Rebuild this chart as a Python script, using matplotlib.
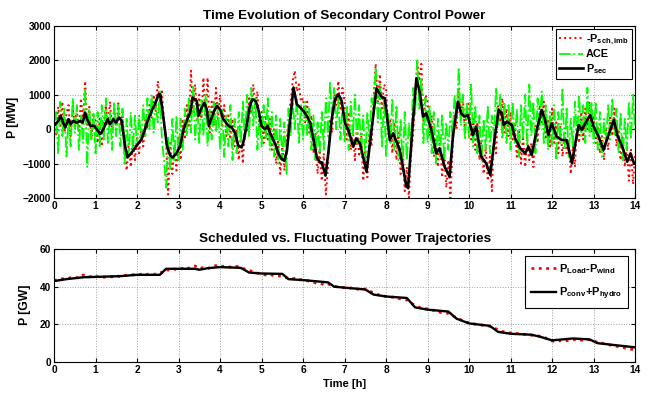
import numpy as np
import matplotlib
matplotlib.use('Agg')
import matplotlib.pyplot as plt

plt.rcParams['font.family'] = ['Liberation Sans', 'DejaVu Sans']
plt.rcParams['font.weight'] = 'bold'
plt.rcParams['mathtext.fontset'] = 'custom'
plt.rcParams['mathtext.rm'] = 'Liberation Sans:bold'
plt.rcParams['mathtext.bf'] = 'Liberation Sans:bold'
plt.rcParams['mathtext.default'] = 'bf'

#secondary control power P_sec [MW], read at irregular times [h]
t_sec = [0, 0.1, 0.16, 0.22, 0.27, 0.35, 0.4, 0.47, 0.55, 0.63, 0.69, 0.75, 0.8, 0.87, 0.96,
         1.03, 1.11, 1.19, 1.29, 1.35, 1.43, 1.49, 1.57, 1.63, 1.71, 1.77, 1.87, 1.99,
         2.11, 2.19, 2.27, 2.35, 2.43, 2.52, 2.56, 2.64, 2.72, 2.8, 2.86, 2.96,
         3.04, 3.12, 3.21, 3.28, 3.34, 3.44, 3.48, 3.54, 3.62, 3.68, 3.73, 3.84, 3.92,
         4.0, 4.08, 4.2, 4.28, 4.36, 4.44, 4.52, 4.56, 4.64, 4.72, 4.78, 4.86, 4.92,
         5.0, 5.08, 5.15, 5.2, 5.33, 5.41, 5.49, 5.55, 5.61, 5.69, 5.77, 5.85, 5.93,
         6.01, 6.09, 6.17, 6.25, 6.33, 6.41, 6.45, 6.54, 6.61, 6.69, 6.77, 6.85, 6.93,
         7.01, 7.09, 7.21, 7.28, 7.37, 7.53, 7.65, 7.77, 7.89, 7.97,
         8.09, 8.17, 8.33, 8.49, 8.53, 8.65, 8.73, 8.81, 8.89, 8.97,
         9.09, 9.21, 9.29, 9.41, 9.53, 9.61, 9.73, 9.81, 9.89, 9.97,
         10.09, 10.17, 10.29, 10.41, 10.51, 10.59, 10.71, 10.79, 10.83, 10.91,
         11.03, 11.11, 11.23, 11.35, 11.43, 11.51, 11.63, 11.75, 11.83, 11.91, 11.99,
         12.11, 12.23, 12.35, 12.48, 12.56, 12.64, 12.72, 12.8, 12.92,
         13.0, 13.12, 13.24, 13.37, 13.49, 13.57, 13.69, 13.81, 13.89, 13.97, 14.0]
p_sec = [100, 240, 390, 190, 50, 290, 145, 240, 190, 240, 190, 480, 290, 100, 100,
         0, -145, 0, 290, 145, 290, 190, 340, 240, -480, -820, -680, -480,
         -290, 0, 290, 530, 725, 1015, 1015, 290, -480, -770, -820, -680,
         -480, 0, 290, 480, 920, 820, 390, 580, 770, 580, 100, 480, 680,
         580, 290, 100, 50, -100, -480, -530, -390, 100, 680, 870, 820, 580,
         100, 0, 100, -100, -430, -725, -870, -920, -630, 290, 1210, 725, 630,
         530, 390, 190, -290, -820, -965, -965, -1350, -680, 290, 870, 1015, 820,
         170, -20, -510, -270, -410, -1235, -20, 1190, 945, 900,
         -315, -120, -600, -1670, -1700, 270, 1480, 1090, 365, 460,
         -20, -700, -555, -1090, -1380, -215, 800, 460, 365, 410,
         -170, 75, -795, -990, -1330, -510, 560, 460, 120, 220,
         120, -270, -555, -700, -510, -750, -20, 560, 270, -170, 170,
         -215, -315, -315, -990, -410, 120, -20, 170, 410,
         75, -215, -600, -120, 270, -170, -510, -945, -700, -990, -1000]

#-P_sch,imb [MW], estimated every 0.05 h (one row per hour)
p_imb = [300, -150, 650, 100, 800, -100, 450, 700, -200, 600, 150, 550, -50, 900, 250, 1400, 100, 650, -300, 400,
         250, -400, 300, -500, 200, 700, 100, 800, -100, 600, 0, 750, 100, 500, -700, -1200, -400, -1100, -300, -900,
         -200, -700, 0, -500, 300, 0, 700, 300, 1000, 500, 1400, 800, 1100, 200, -300, -1900, -400, -1300, -500, -1200,
         -200, -900, 300, -300, 700, 100, 1700, 500, 1300, 200, 1000, 300, 1500, 400, 1500, -100, 800, 100, 1200, 300,
         1000, 100, 700, -200, 400, -300, 300, -500, 0, -900, -200, -1000, 200, -100, 900, 500, 1300, 600, 1100, 0,
         500, -400, 400, -300, 300, -600, 0, -1000, -300, -1300, -500, -1200, -400, 300, 800, 1400, 1700, 1100, 1300, 800,
         900, 200, 800, -100, 400, -700, -100, -1300, -600, -1500, -700, -1900, -1100, 300, -100, 1100, 700, 1400, 600, 1200,
         800, -300, 500, -600, 0, -900, 100, -800, -100, -1500, -600, -1400, 0, -500, 900, 1900, 800, 1600, 600, 1300,
         1200, 0, 300, -700, 200, -900, -100, -1300, -500, -1800, -1100, -2000, -700, -200, 800, 2000, 1400, 1900, 200, 1000,
         800, -200, 400, -800, -300, -1100, -200, -1400, -600, -1700, -900, -2000, -600, 400, 0, 1200, 300, 900, -100, 800,
         700, -300, 300, -600, 200, -900, -300, -1300, -500, -1500, -800, -1800, -200, -700, 700, 200, 900, -100, 600, -200,
         500, -300, 200, -800, 0, -1000, -200, -1100, -300, -900, -400, -1100, 100, -400, 700, 200, 800, -300, 300, -500,
         600, -400, 200, -700, 100, -800, -100, -700, -300, -1300, -500, -1100, 200, -400, 500, -300, 600, 0, 800, -100,
         400, -400, 100, -700, -200, -900, 0, -600, 400, -200, 600, -500, 0, -900, -200, -1100, -500, -1500, -600, -1600, -700]

#ACE [MW], estimated every 0.05 h
ace = [-300, 500, -700, 800, -200, 600, -800, 300, -500, 900, -100, 700, -600, 400, -400, 1200, -1100, 600, -300, 500,
       -700, 500, -500, 700, -300, 900, -400, 500, -600, 800, -200, 700, -500, 600, -1000, 300, -800, 500, -600, 400,
       -500, 400, -300, 700, -200, 900, 0, 1000, -100, 800, 200, 1100, -300, -900, -1700, -200, -1200, 300, -900, 400,
       -900, 300, -600, 600, -200, 900, -100, 1300, -300, 700, -400, 900, -200, 1000, -500, 600, -300, 800, -100, 700,
       -600, 600, -800, 400, -500, 700, -900, 300, -700, 500, -400, 800, -300, 1000, -200, 1200, 100, 900, -600, 500,
       -500, 700, -300, 900, -600, 500, -800, 400, -1000, 300, -900, 200, -1300, 600, -200, 800, 0, 900, -400, 700,
       -300, 800, -200, 600, -600, 400, -900, 200, -700, 500, -600, 900, -200, 1400, 300, 1200, 0, 900, -300, 700,
       -400, 700, -600, 800, -200, 1000, -400, 700, -700, 400, -900, 500, -300, 900, 600, 1800, 200, 1300, -500, 900,
       -800, 500, -400, 900, -600, 700, -900, 300, -1100, 500, -900, 200, -500, 1200, 400, 2000, 600, 1500, -400, 900,
       -400, 700, -700, 500, -1000, 300, -800, 400, -900, 200, -600, 500, -200, 1000, 300, 1800, 100, 1000, -300, 800,
       -300, 1300, -500, 700, -700, 400, -900, 300, -600, 700, -700, 400, -200, 1200, 100, 1000, -300, 800, -400, 700,
       -600, 800, -400, 600, -800, 700, -300, 1000, -500, 1300, -200, 800, -700, 900, 0, 1100, -400, 700, -600, 500,
       -500, 700, -900, 500, -400, 1200, -600, 600, -800, 300, -500, 800, -300, 1000, -200, 700, -400, 1200, -200, 800,
       -400, 800, -600, 500, -800, 300, -400, 700, -300, 900, -200, 600, -700, 500, -900, 300, -600, 800, -300, 1000, 0]

#scheduled conventional + hydro power [GW]
t_sched = [0, 0.3, 0.7, 1.0, 1.6, 2.0, 2.55, 2.7, 3.0, 3.4, 3.5, 3.7, 4.0, 4.5, 4.7, 5.0, 5.5, 5.65,
           6.0, 6.6, 6.75, 7.0, 7.5, 7.7, 8.0, 8.5, 8.7, 9.0, 9.5, 9.7, 10.0, 10.5, 10.7,
           11.0, 11.5, 11.7, 12.0, 12.5, 12.9, 13.1, 13.5, 14.0]
p_sched = [43, 44, 45, 45.2, 45.6, 46.3, 46.3, 49.5, 49.5, 49.5, 49, 49.8, 50.4, 50, 47.5, 47, 46.8, 44,
           43.5, 42.3, 40, 39.5, 38.5, 35.8, 34.8, 34, 29, 27.8, 26.8, 23, 20.5, 19.2, 16,
           15, 14.5, 13.5, 11.5, 12.5, 12, 10, 9, 7.8]

#P_load - P_wind [GW], estimated every 0.1 h
p_resid = [43.2, 43.8, 44.2, 44.0, 44.8, 45.0, 44.6, 46.2, 45.0, 45.4,
           45.1, 45.6, 45.0, 45.4, 45.2, 45.9, 45.3, 46.0, 45.8, 46.4,
           46.0, 46.6, 46.2, 46.8, 46.4, 47.3, 47.6, 49.2, 48.6, 49.4,
           48.8, 49.8, 49.2, 50.6, 51.0, 49.6, 50.2, 49.5, 50.8, 51.2,
           50.4, 51.0, 50.6, 50.2, 50.8, 49.8, 49.4, 48.8, 47.6, 47.2,
           46.8, 46.2, 46.6, 45.8, 45.9, 45.2, 44.8, 44.0, 44.4, 43.6,
           43.8, 43.2, 42.6, 42.0, 41.8, 41.2, 41.6, 40.4, 40.0, 39.8,
           39.4, 39.0, 39.6, 38.8, 38.2, 38.8, 37.6, 36.8, 35.8, 35.2,
           34.8, 34.2, 34.6, 33.8, 33.2, 33.0, 31.2, 30.2, 29.0, 28.4,
           28.2, 27.4, 27.6, 26.4, 26.2, 25.8, 24.6, 23.4, 22.4, 21.4,
           20.8, 20.2, 20.0, 19.6, 19.4, 19.0, 18.2, 17.0, 16.2, 15.8,
           15.4, 15.0, 15.2, 14.6, 14.8, 14.2, 14.4, 13.6, 13.2, 12.2,
           11.2, 10.8, 11.4, 11.0, 11.6, 11.8, 12.2, 11.6, 12.0, 11.8,
           11.4, 10.2, 10.0, 9.4, 9.0, 8.6, 8.2, 7.8, 7.2, 6.8, 6.6]

t_fast = np.linspace(0, 14, len(p_imb))
t_slow = np.linspace(0, 14, len(p_resid))

hours = list(range(0, 15))


def style_axes(ax, yticks):
	ax.set_xlim(0, 14)
	ax.set_xticks(hours)
	ax.set_yticks(yticks)
	ax.set_ylim(yticks[0], yticks[-1])
	ax.grid(True, linestyle=':', color='#a0a0a0', linewidth=0.7)
	ax.tick_params(direction='in', top=True, right=True, labelsize=7.3, length=3, pad=2)
	for lab in ax.get_xticklabels() + ax.get_yticklabels():
		lab.set_fontweight('bold')
	for sp in ax.spines.values():
		sp.set_linewidth(0.8)


fig = plt.figure(figsize=(6.5, 3.99), dpi=100)

#upper plot
ax1 = fig.add_axes([0.0831, 0.5038, 0.894, 0.431])
ax1.plot(t_fast, p_imb, color='red', linestyle=':', linewidth=1.4, label='-P$_{sch,imb}$')
ax1.plot(t_fast, ace, color=(0, 1, 0), linestyle='-.', linewidth=1.3, label='ACE')
ax1.plot(t_sec, p_sec, color='black', linewidth=1.9, label='P$_{sec}$')
style_axes(ax1, [-2000, -1000, 0, 1000, 2000, 3000])
ax1.set_title('Time Evolution of Secondary Control Power', fontsize=9.7, fontweight='bold', pad=5)
ax1.set_ylabel('P [MW]', fontsize=8.8, fontweight='bold')
ax1.yaxis.set_label_coords(-0.06, 0.47)
leg1 = ax1.legend(loc='upper right', fontsize=7.8, handlelength=2.2, borderaxespad=0.25,
                  fancybox=False, edgecolor='black', framealpha=1, labelspacing=0.25,
                  handletextpad=0.3, borderpad=0.3)
leg1.get_frame().set_linewidth(0.8)

#lower plot
ax2 = fig.add_axes([0.0831, 0.0927, 0.894, 0.2832])
ax2.plot(t_slow, p_resid, color='red', linestyle=':', linewidth=2.0, label='P$_{Load}$-P$_{wind}$')
ax2.plot(t_sched, p_sched, color='black', linewidth=1.7, label='P$_{conv}$+P$_{hydro}$')
style_axes(ax2, [0, 20, 40, 60])
ax2.set_title('Scheduled vs. Fluctuating Power Trajectories', fontsize=9.7, fontweight='bold', pad=5)
ax2.set_ylabel('P [GW]', fontsize=8.8, fontweight='bold')
ax2.yaxis.set_label_coords(-0.04, 0.51)
ax2.set_xlabel('Time [h]', fontsize=8, fontweight='bold', labelpad=3)
leg2 = ax2.legend(loc='upper right', fontsize=8, handlelength=2.2, borderaxespad=0.6,
                  fancybox=False, edgecolor='black', framealpha=1, labelspacing=0.9,
                  handletextpad=0.3, borderpad=0.55)
leg2.get_frame().set_linewidth(0.8)

plt.savefig('out.png', dpi=100)
